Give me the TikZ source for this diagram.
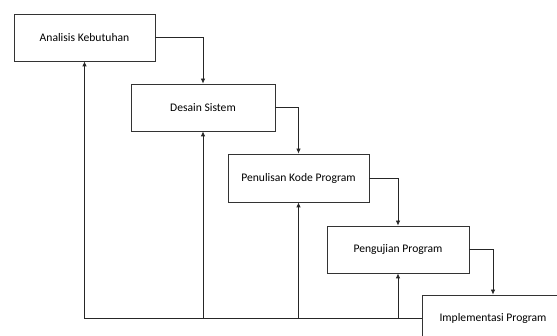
\documentclass[tikz,border=0pt]{standalone}
\usepackage{fontspec}
\setmainfont{Carlito}
\usepackage{tikz}
\usetikzlibrary{arrows.meta}

\tikzset{
    tahap/.style={draw=black!80,line width=0.8pt,rectangle,minimum width=141pt,minimum height=47pt,inner sep=0pt,font=\fontsize{11.6}{13}\selectfont},
    alur/.style={draw=black!85,line width=0.8pt,-{Latex[length=5pt,width=4.5pt]}}
}

\begin{document}
\begin{tikzpicture}[x=1pt,y=1pt]
    \clip (0,0) rectangle (557,336);
    \node[tahap] (analisis) at (84.5,298.5) {Analisis Kebutuhan};
    \node[tahap,minimum width=144pt] (desain) at (203,228.5) {Desain Sistem};
    \node[tahap,minimum height=48pt] (penulisan) at (298.5,158) {Penulisan Kode Program};
    \node[tahap,minimum width=142pt] (pengujian) at (398,86.5) {Pengujian Program};
    \node[tahap,minimum width=142pt] (implementasi) at (493,17.5) {Implementasi Program};
    \draw[alur] (analisis.east) -| (desain.north);
    \draw[alur] (desain.east) -| (penulisan.north);
    \draw[alur] (penulisan.east) -| (pengujian.north);
    \draw[alur] (pengujian.east) -| (implementasi.north);
    \draw[alur] (implementasi.west) -| (analisis.south);
    \draw[alur] (desain.south |- implementasi.west) -- (desain.south);
    \draw[alur] (penulisan.south |- implementasi.west) -- (penulisan.south);
    \draw[alur] (pengujian.south |- implementasi.west) -- (pengujian.south);
\end{tikzpicture}
\end{document}
